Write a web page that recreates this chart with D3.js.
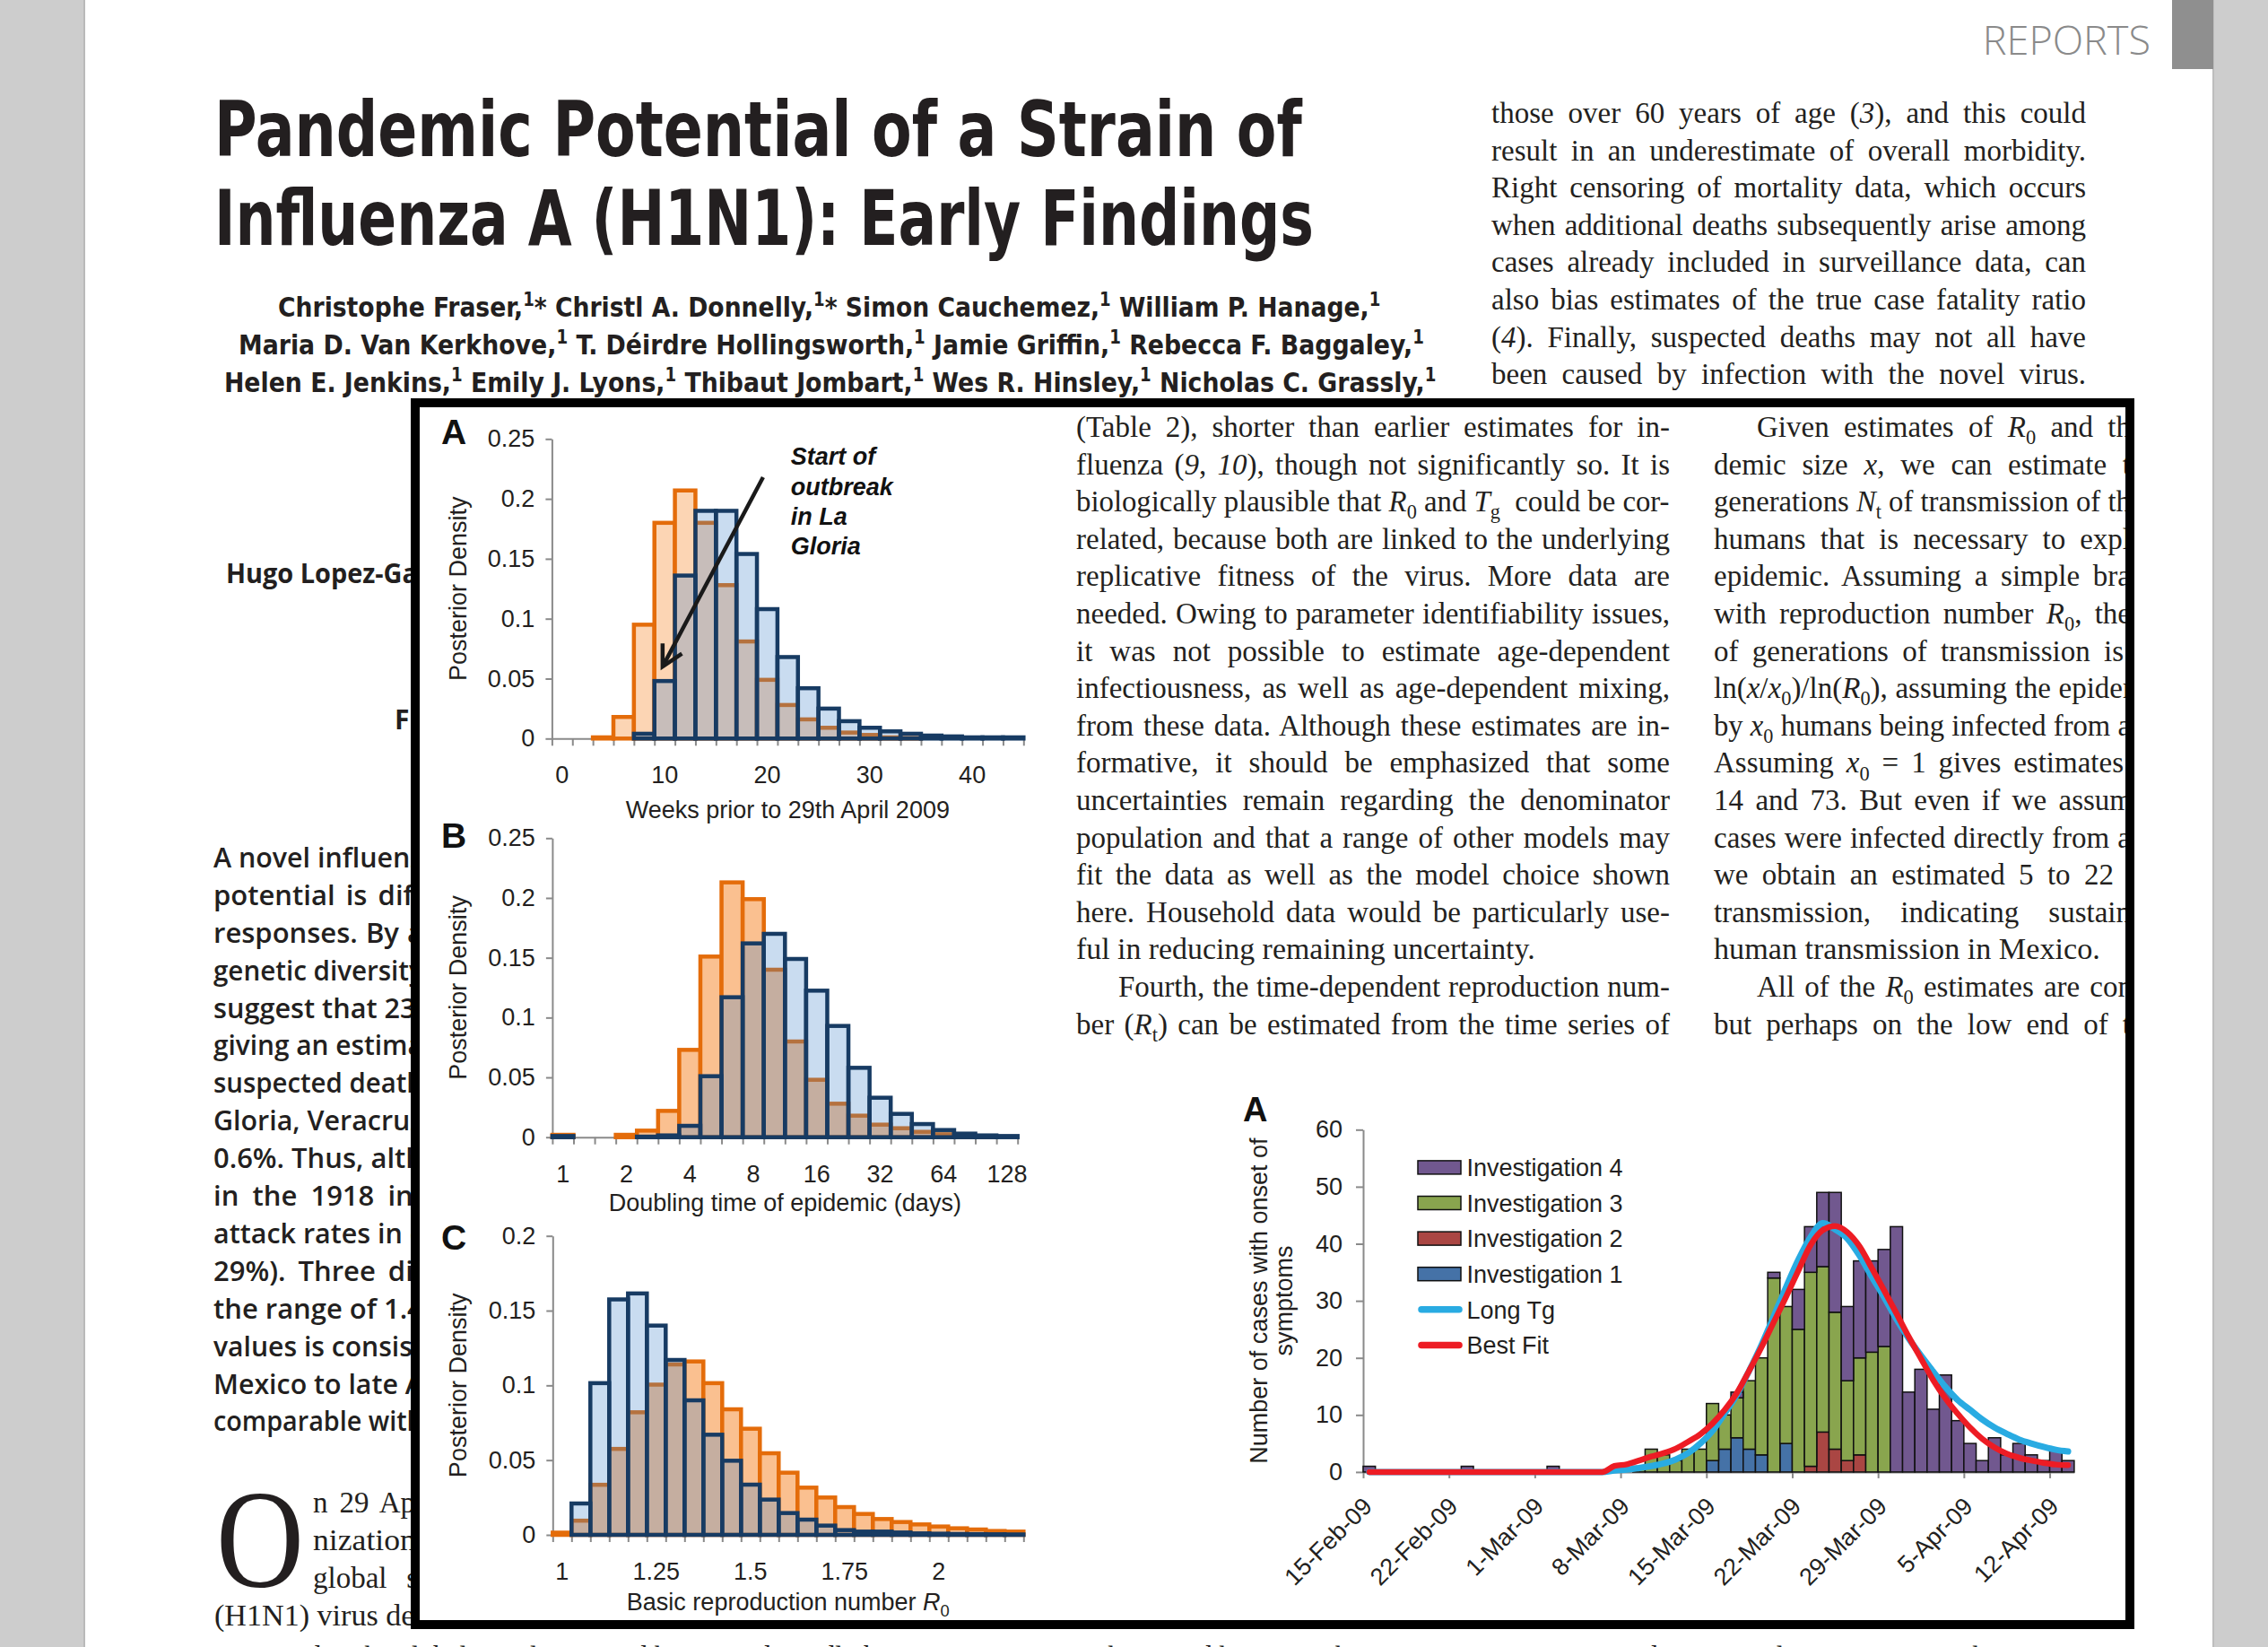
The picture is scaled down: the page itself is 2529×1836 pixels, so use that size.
<!DOCTYPE html>
<html><head><meta charset="utf-8"><title>Pandemic Potential of a Strain of Influenza A (H1N1)</title>
<script src="https://cdn.jsdelivr.net/npm/d3@7/dist/d3.min.js"></script>
<style>html,body{margin:0;padding:0;background:#cccccc;overflow:hidden}svg{display:block}</style>
</head><body>
<svg id="page" width="2529" height="1836" xmlns="http://www.w3.org/2000/svg"></svg>
<script>
// ===================== DATA =====================
// Panel A – weeks prior to 29th April 2009 (2-week bins)
const weeksA  = [0,2,4,6,8,10,12,14,16,18,20,22,24,26,28,30,32,34,36,38,40,42,44];
const orangeA = [0,0,0.001,0.018,0.095,0.180,0.207,0.180,0.128,0.081,0.049,0.028,0.016,0.009,0.005,0.003,0.001,0.0005,0,0,0,0,0];
const blueA   = [0,0,0,0,0.004,0.048,0.136,0.190,0.190,0.154,0.108,0.068,0.042,0.025,0.0145,0.009,0.006,0.004,0.0025,0.0018,0.001,0.001,0.001];
const xTicksA = [0,10,20,30,40];

// Panel B – doubling time of epidemic (days), log2 bins of 1/3
const doublingB = [1,1.26,1.59,2,2.52,3.17,4,5.04,6.35,8,10.08,12.7,16,20.16,25.4,32,40.32,50.8,64,80.6,101.6,128];
const orangeB   = [0.002,0,0,0.002,0.0055,0.022,0.073,0.151,0.213,0.199,0.140,0.080,0.048,0.028,0.018,0.0105,0.0075,0.0045,0.0025,0.001,0.0005,0];
const blueB     = [0.001,0,0,0,0.0005,0.0015,0.0095,0.051,0.117,0.162,0.170,0.149,0.1225,0.093,0.058,0.033,0.0195,0.011,0.006,0.003,0.0015,0.001];
const xTicksB   = [1,2,4,8,16,32,64,128];

// Panel C – basic reproduction number R0
const r0C     = [1,1.05,1.1,1.15,1.2,1.25,1.3,1.35,1.4,1.45,1.5,1.55,1.6,1.65,1.7,1.75,1.8,1.85,1.9,1.95,2,2.05,2.1,2.15,2.2];
const orangeC = [0.0015,0.0095,0.0335,0.0575,0.082,0.1005,0.114,0.116,0.1015,0.084,0.071,0.0546,0.0416,0.0316,0.025,0.0186,0.014,0.0106,0.0086,0.007,0.0056,0.0044,0.0036,0.0026,0.0022];
const blueC   = [0,0.021,0.1015,0.1575,0.1615,0.140,0.117,0.090,0.067,0.0496,0.0336,0.0236,0.0146,0.0102,0.0062,0.0032,0.0022,0.0022,0.0016,0.001,0.0008,0.0006,0.0005,0.0004,0.0003];
const xTicksC = [1,1.25,1.5,1.75,2];

const yTicksAB = [0,0.05,0.1,0.15,0.2,0.25];
const yTicksC  = [0,0.05,0.1,0.15,0.2];

// Epidemic curve – daily cases 15-Feb-09 .. 13-Apr-09 (58 days)
const inv1 = [0,0,0,0,0,0,0,0,0,0, 0,0,0,0,0,0,0,0,0,0, 0,0,0,0,0,0,0,0,2,4, 6,4,3,0,5,0,0,0,0,0, 0,0,0,0,0,0,0,0,0,0, 0,0,0,0,0,0,0,0];
const inv2 = [0,0,0,0,0,0,0,0,0,0, 0,0,0,0,0,0,0,0,0,0, 0,0,0,0,0,0,0,0,0,0, 0,0,0,0,0,0,1,7,4,2, 3,0,0,0,0,0,0,0,0,0, 0,0,0,0,0,0,0,0];
const inv3 = [0,0,0,0,0,0,0,0,0,0, 0,0,0,0,0,0,0,0,0,0, 0,0,1,4,3,2,4,4,10,6, 7,12,17,34,24,25,34,29,24,14, 17,21,22,0,0,0,0,0,0,0, 0,0,0,0,0,0,0,0];
const inv4 = [1,0,0,0,0,0,0,0,1,0, 0,0,0,0,0,1,0,0,0,0, 0,0,0,0,0,0,0,0,0,0, 1,0,0,1,0,7,8,13,21,13, 17,16,17,43,14,18,11,17,9,5, 2,6,3,5,3,2,4,2];
const longTg  = [0,0,0,0,0,0,0,0,0,0, 0,0,0,0,0,0,0,0,0,0, 0.25,0.4,0.7,1.05,1.5,2.2,3.3,5.0,7.2,10.3, 13.6,17.8,22.3,27.3,32.4,37.2,41.2,43.6,42.5,40.9, 37.9,34.2,30.6,26.8,23.4,20.4,17.6,14.9,12.6,10.9, 9.2,7.8,6.7,5.7,5.0,4.4,3.9,3.6];
const bestFit = [0,0,0,0,0,0,0,0,0,0, 0,0,0,0,0,0,0,0,0,0, 1.05,1.35,2.0,2.7,3.3,4.1,5.3,6.6,8.5,10.9, 13.9,17.8,21.9,26.3,30.7,35.3,39.8,42.4,43.1,42.0, 39.5,35.7,31.8,27.8,23.7,19.9,16.1,12.9,10.2,7.8, 5.8,4.3,3.2,2.5,2.0,1.6,1.3,1.2];
const dateTickDays = [0,7,14,21,28,35,42,49,56];
const dateTicks    = ['15-Feb-09','22-Feb-09','1-Mar-09','8-Mar-09','15-Mar-09','22-Mar-09','29-Mar-09','5-Apr-09','12-Apr-09'];
const yTicksE      = [0,10,20,30,40,50,60];

// ===================== HELPERS =====================
const svg = d3.select('#page');
const SANS  = "'Liberation Sans', Arial, Helvetica, sans-serif";
const SERIF = "'Liberation Serif', 'Times New Roman', Times, serif";
const COND  = "'DejaVu Sans Condensed', 'DejaVu Sans', 'Liberation Sans', sans-serif";
const HUM   = "'Open Sans', 'Noto Sans', 'DejaVu Sans', sans-serif";
const INK = '#231f20';
function I(t){return {t:t,i:true};}
function S(t){return {t:t,sub:true};}
function P(t){return {t:t,sup:true};}

function addText(parent, o){
  const size=o.size;
  const t=parent.append('text').attr('x',o.x).attr('y',o.y)
    .attr('font-family',o.family).attr('font-size',size)
    .attr('font-weight',o.weight||'normal').attr('font-style',o.style||'normal')
    .attr('fill',o.fill||INK).attr('text-anchor',o.anchor||'start')
    .style('white-space','pre');
  const parts=Array.isArray(o.parts)?o.parts:[o.parts];
  let shift=0;
  parts.forEach(p=>{
    if(typeof p==='string') p={t:p};
    const ts=t.append('tspan').text(p.t);
    const target=p.sub?size*0.25:(p.sup?-size*0.4:0);
    if(target!==shift){ts.attr('dy',target-shift);shift=target;}
    if(p.sub||p.sup) ts.attr('font-size',size*0.68);
    if(p.i) ts.attr('font-style','italic');
  });
  if(o.width) fitText(t,o.x,o.width,o.k||1,o.justify!==false);
  else if(o.k&&o.k!==1) t.attr('transform',`matrix(${o.k},0,0,1,${o.x*(1-o.k)},0)`);
  if(o.transform) t.attr('transform',o.transform);
  return t;
}
function fitText(t,x,width,k,justify){
  const n=t.node();const w=n.getComputedTextLength();
  if(!w) return;
  const local=width/k;let scale=k;
  if(!justify||w>=local){scale=width/w;}
  else{
    const spaces=(n.textContent.match(/ /g)||[]).length;
    if(spaces) t.attr('word-spacing',(local-w)/spaces); else scale=width/w;
  }
  t.attr('transform',`matrix(${scale},0,0,1,${x*(1-scale)},0)`);
}

// ===================== PAGE =====================
svg.append('rect').attr('width',2529).attr('height',1836).attr('fill','#cdcdcd');
svg.append('rect').attr('x',94).attr('y',0).attr('width',2374).attr('height',1836).attr('fill','#ffffff');
svg.append('line').attr('x1',94).attr('x2',94).attr('y1',0).attr('y2',1836).attr('stroke','#b9b9b9').attr('stroke-width',2);
svg.append('line').attr('x1',2468).attr('x2',2468).attr('y1',0).attr('y2',1836).attr('stroke','#bdbdbd').attr('stroke-width',2);
svg.append('rect').attr('x',2422).attr('y',0).attr('width',46).attr('height',77).attr('fill','#8f8f8f');
addText(svg,{x:2398,y:61,parts:'REPORTS',size:45,family:HUM,weight:300,fill:'#8a8a8a',anchor:'end'});

// title
addText(svg,{x:239,y:174,parts:'Pandemic Potential of a Strain of',size:85,family:COND,weight:'bold',width:1213});
addText(svg,{x:239,y:273,parts:'Influenza A (H1N1): Early Findings',size:85,family:COND,weight:'bold',width:1226});

// authors
const authors=[
  {x:310,y:353,w:1230,parts:['Christophe Fraser,',P('1'),'* Christl A. Donnelly,',P('1'),'* Simon Cauchemez,',P('1'),' William P. Hanage,',P('1')]},
  {x:266,y:395,w:1323,parts:['Maria D. Van Kerkhove,',P('1'),' T. Déirdre Hollingsworth,',P('1'),' Jamie Griffin,',P('1'),' Rebecca F. Baggaley,',P('1')]},
  {x:250,y:437,w:1352,parts:['Helen E. Jenkins,',P('1'),' Emily J. Lyons,',P('1'),' Thibaut Jombart,',P('1'),' Wes R. Hinsley,',P('1'),' Nicholas C. Grassly,',P('1')]}
];
authors.forEach(a=>addText(svg,{x:a.x,y:a.y,parts:a.parts,size:31,family:COND,weight:'bold',width:a.w}));

// right column, above box
const rightTop=[
  ['those over 60 years of age (',I('3'),'), and this could'],
  ['result in an underestimate of overall morbidity.'],
  ['Right censoring of mortality data, which occurs'],
  ['when additional deaths subsequently arise among'],
  ['cases already included in surveillance data, can'],
  ['also bias estimates of the true case fatality ratio'],
  ['(',I('4'),'). Finally, suspected deaths may not all have'],
  ['been caused by infection with the novel virus.']
];
rightTop.forEach((p,i)=>addText(svg,{x:1663,y:137+41.6*i,parts:p,size:33,family:SERIF,width:663,k:1}));

// left column fragments (partly hidden behind the figure box)
addText(svg,{x:252,y:650,parts:'Hugo Lopez-Ga',size:30,family:HUM,weight:'bold',width:214});
addText(svg,{x:440,y:813,parts:'F',size:30,family:HUM,weight:'bold'});
const absLines=['A novel influenz','potential is diff','responses. By a','genetic diversity','suggest that 23,','giving an estima','suspected death','Gloria, Veracruz','0.6%. Thus, alth','in the 1918 inf','attack rates in c','29%). Three dif','the range of 1.4','values is consist','Mexico to late A','comparable with'];
absLines.forEach((s,i)=>addText(svg,{x:238,y:967+41.9*i,parts:s,size:31,family:HUM,weight:600,width:234}));
addText(svg,{x:241,y:1768,parts:'O',size:156,family:SERIF,width:98,justify:false});
[['n 29 Apr',349,1686,474,true],['nization',349,1728,464,false],['global s',349,1770,466,true],['(H1N1) virus det',239,1812,472,false]].forEach(r=>
  addText(svg,{x:r[1],y:r[2],parts:r[0],size:33,family:SERIF,width:r[3]-r[1],k:1,justify:r[4]}));
addText(svg,{x:279,y:1858,parts:'sented in the global population, and has spread rapidly between countries with onward human-to-human transmission reported in many places, now more than 10,000',size:33,family:SERIF,width:2060,k:1});

// ===================== FIGURE BOX =====================
svg.append('rect').attr('x',463).attr('y',449).attr('width',1912).attr('height',1362).attr('fill','#ffffff');

const defs=svg.append('defs');
defs.append('clipPath').attr('id','boxclip').append('rect').attr('x',468).attr('y',454).attr('width',1902).attr('height',1352);
const inner=svg.append('g').attr('clip-path','url(#boxclip)');

// text columns inside the box
const col1=[
  ['(Table 2), shorter than earlier estimates for in-'],
  ['fluenza (',I('9'),', ',I('10'),'), though not significantly so. It is'],
  ['biologically plausible that ',I('R'),S('0'),' and ',I('T'),S('g'),'  could be cor-'],
  ['related, because both are linked to the underlying'],
  ['replicative fitness of the virus. More data are'],
  ['needed. Owing to parameter identifiability issues,'],
  ['it was not possible to estimate age-dependent'],
  ['infectiousness, as well as age-dependent mixing,'],
  ['from these data. Although these estimates are in-'],
  ['formative, it should be emphasized that some'],
  ['uncertainties remain regarding the denominator'],
  ['population and that a range of other models may'],
  ['fit the data as well as the model choice shown'],
  ['here. Household data would be particularly use-'],
  ['ful in reducing remaining uncertainty.'],
  ['Fourth, the time-dependent reproduction num-'],
  ['ber (',I('R'),S('t'),') can be estimated from the time series of']
];
col1.forEach((p,i)=>{
  const x=i===15?1247:1200;
  const w=i===14?512:1862-x;
  addText(inner,{x:x,y:487+41.6*i,parts:p,size:33,family:SERIF,width:w,k:1,justify:i!==14});
});
const col2=[
  ['Given estimates of ',I('R'),S('0'),' and th'],
  ['demic size ',I('x'),', we can estimate t'],
  ['generations ',I('N'),S('t'),' of transmission of th'],
  ['humans that is necessary to expl'],
  ['epidemic. Assuming a simple bra'],
  ['with reproduction number ',I('R'),S('0'),', the'],
  ['of generations of transmission is'],
  ['ln(',I('x'),'/',I('x'),S('0'),')/ln(',I('R'),S('0'),'), assuming the epider'],
  ['by ',I('x'),S('0'),' humans being infected from a'],
  ['Assuming ',I('x'),S('0'),' = 1 gives estimates'],
  ['14 and 73. But even if we assum'],
  ['cases were infected directly from a'],
  ['we obtain an estimated 5 to 22'],
  ['transmission, indicating sustain'],
  ['human transmission in Mexico.'],
  ['All of the ',I('R'),S('0'),' estimates are con'],
  ['but perhaps on the low end of t']
];
const col2End=[2376,2376,2376,2376,2376,2376,2368,2378,2376,2368,2378,2376,2357,2376,2342,2378,2376];
col2.forEach((p,i)=>{
  const x=(i===0||i===15)?1959:1911;
  addText(inner,{x:x,y:487+41.6*i,parts:p,size:33,family:SERIF,width:col2End[i]-x,k:1,justify:i!==14});
});

// ===================== HISTOGRAMS =====================
const ORANGE_STROKE='#e46c0a', NAVY='#173b63', BLUE_FILL='rgba(62,130,201,0.28)', AXIS='#8a8a8a';
function styleAxis(a,size){
  a.selectAll('path,line').attr('stroke',AXIS).attr('stroke-width',2);
  a.selectAll('text').attr('font-family',SANS).attr('font-size',size||27).attr('fill',INK);
}
function drawHist(c){
  const g=inner.append('g');
  const n=c.cats.length;
  const x=d3.scaleBand().domain(d3.range(n)).range([c.x0,c.x1]).padding(0);
  const xb=d3.scaleLinear().domain([0,n]).range([c.x0,c.x1]);
  const y=d3.scaleLinear().domain([0,c.ymax]).range([c.y0,c.ytop]);
  const ya=g.append('g').attr('transform',`translate(${c.x0},0)`)
    .call(d3.axisLeft(y).tickValues(c.yticks).tickSize(7).tickPadding(12).tickSizeOuter(0).tickFormat(d=>String(+d.toFixed(2))));
  styleAxis(ya);
  const xa=g.append('g').attr('transform',`translate(0,${c.y0})`)
    .call(d3.axisBottom(xb).tickValues(d3.range(n+1)).tickSize(8).tickSizeOuter(0).tickFormat(''));
  styleAxis(xa);
  const xl=g.append('g').attr('transform',`translate(0,${c.y0})`)
    .call(d3.axisBottom(x).tickValues(c.xticks.map(v=>c.cats.indexOf(v))).tickSize(0).tickPadding(31).tickFormat(i=>String(c.cats[i])));
  xl.select('.domain').remove();
  styleAxis(xl);
  // orange series
  g.append('g').selectAll('rect').data(c.orange.map((v,i)=>({v:v,i:i})).filter(d=>d.v>0)).join('rect')
    .attr('x',d=>x(d.i)).attr('width',x.bandwidth()).attr('y',d=>y(d.v)).attr('height',d=>c.y0-y(d.v))
    .attr('fill',c.orangeFill).attr('stroke',ORANGE_STROKE).attr('stroke-width',4.5);
  // blue series (translucent, on top)
  g.append('g').selectAll('rect').data(c.blue.map((v,i)=>({v:v,i:i})).filter(d=>d.v>0)).join('rect')
    .attr('x',d=>x(d.i)).attr('width',x.bandwidth()).attr('y',d=>y(d.v)).attr('height',d=>c.y0-y(d.v))
    .attr('fill',BLUE_FILL).attr('stroke',NAVY).attr('stroke-width',4.5);
  // titles
  addText(g,{x:0,y:0,parts:'Posterior Density',size:27,family:SANS,anchor:'middle',transform:`translate(520,${(c.y0+c.ytop)/2}) rotate(-90)`});
  addText(g,{x:(c.x0+c.x1)/2,y:c.titleY,parts:c.title,size:27,family:SANS,anchor:'middle'});
  addText(g,{x:492,y:c.labelY,parts:c.label,size:39,family:SANS,weight:'bold',fill:'#111'});
  return {g:g,x:x,y:y};
}
const hA=drawHist({cats:weeksA,orange:orangeA,blue:blueA,xticks:xTicksA,yticks:yTicksAB,ymax:0.25,
  x0:615.4,x1:1141.3,y0:823.3,ytop:489.3,title:'Weeks prior to 29th April 2009',titleY:911.7,label:'A',labelY:495,orangeFill:'#fcd5b4'});
drawHist({cats:doublingB,orange:orangeB,blue:blueB,xticks:xTicksB,yticks:yTicksAB,ymax:0.25,
  x0:615.9,x1:1134.7,y0:1267.7,ytop:934.3,title:'Doubling time of epidemic (days)',titleY:1350,label:'B',labelY:945,orangeFill:'#fac090'});
drawHist({cats:r0C,orange:orangeC,blue:blueC,xticks:xTicksC,yticks:yTicksC,ymax:0.2,
  x0:616.3,x1:1141.3,y0:1711,ytop:1377.7,title:['Basic reproduction number ',I('R'),S('0')],titleY:1795,label:'C',labelY:1393,orangeFill:'#fac090'});

// annotation on panel A (data coordinates: weeks, density)
const arrowA={from:[19.6,0.218],to:[9.8,0.06]};
const noteA={w:22.3,d:[0.2283,0.2033,0.1783,0.1534],lines:['Start of','outbreak','in La','Gloria']};
const wk=d3.scaleLinear().domain([weeksA[0]-1,weeksA[weeksA.length-1]+1]).range([615.4,1141.3]);
(function(){
  const sx=wk(arrowA.from[0]),sy=hA.y(arrowA.from[1]),tx=wk(arrowA.to[0]),ty=hA.y(arrowA.to[1]);
  const L=Math.hypot(tx-sx,ty-sy),ux=(tx-sx)/L,uy=(ty-sy)/L;
  hA.g.append('line').attr('x1',sx).attr('y1',sy).attr('x2',tx-ux*2).attr('y2',ty-uy*2).attr('stroke','#1a1a1a').attr('stroke-width',4.5);
  const a=28*Math.PI/180,len=26;
  const w1=[tx-len*(ux*Math.cos(a)-uy*Math.sin(a)),ty-len*(uy*Math.cos(a)+ux*Math.sin(a))];
  const w2=[tx-len*(ux*Math.cos(a)+uy*Math.sin(a)),ty-len*(uy*Math.cos(a)-ux*Math.sin(a))];
  hA.g.append('path').attr('d',d3.line()([w1,[tx,ty],w2])).attr('fill','none').attr('stroke','#1a1a1a').attr('stroke-width',4.5).attr('stroke-linejoin','miter');
  noteA.lines.forEach((s,i)=>addText(hA.g,{x:wk(noteA.w),y:hA.y(noteA.d[i]),parts:s,size:27,family:SANS,weight:'bold',style:'italic',fill:'#111'}));
})();

// ===================== EPIDEMIC CURVE =====================
(function(){
  const g=inner.append('g');
  const E={x0:1520,x1:2312.9,y0:1640.9,ytop:1259.3};
  const days=d3.range(inv1.length);
  const x=d3.scaleBand().domain(days).range([E.x0,E.x1]).padding(0);
  const xl=d3.scaleLinear().domain([0,days.length]).range([E.x0,E.x1]);
  const y=d3.scaleLinear().domain([0,60]).range([E.y0,E.ytop]);
  const ya=g.append('g').attr('transform',`translate(${E.x0},0)`)
    .call(d3.axisLeft(y).tickValues(yTicksE).tickSize(8).tickPadding(15).tickSizeOuter(0));
  styleAxis(ya);
  const xa=g.append('g').attr('transform',`translate(0,${E.y0})`)
    .call(d3.axisBottom(xl).tickValues(dateTickDays).tickSize(7).tickSizeOuter(0).tickFormat((d,i)=>dateTicks[i]));
  styleAxis(xa,27);
  xa.selectAll('text').attr('x',11).attr('y',40).attr('dy',0).attr('text-anchor','end').attr('transform','rotate(-45,11,40)');
  // stacked bars
  const rows=days.map(i=>({inv1:inv1[i],inv2:inv2[i],inv3:inv3[i],inv4:inv4[i]}));
  const keys=['inv1','inv2','inv3','inv4'];
  const colors={inv1:'#4572a7',inv2:'#aa4643',inv3:'#89a54e',inv4:'#71588f'};
  const stacked=d3.stack().keys(keys)(rows);
  stacked.forEach(layer=>{
    g.append('g').selectAll('rect').data(layer.map((d,i)=>({d:d,i:i})).filter(o=>o.d[1]>o.d[0])).join('rect')
      .attr('x',o=>x(o.i)).attr('width',x.bandwidth()).attr('y',o=>y(o.d[1])).attr('height',o=>y(o.d[0])-y(o.d[1]))
      .attr('fill',colors[layer.key]).attr('stroke','#111').attr('stroke-width',1.5);
  });
  // model curves
  const line=d3.line().x((v,i)=>x(i)+x.bandwidth()/2).y(v=>y(v)).curve(d3.curveMonotoneX);
  g.append('path').attr('d',line(longTg)).attr('fill','none').attr('stroke','#29abe2').attr('stroke-width',7).attr('stroke-linecap','round').attr('stroke-linejoin','round');
  g.append('path').attr('d',line(bestFit)).attr('fill','none').attr('stroke','#ed1c24').attr('stroke-width',6.5).attr('stroke-linecap','round').attr('stroke-linejoin','round');
  // legend
  const legend=[
    {label:'Investigation 4',fill:colors.inv4},{label:'Investigation 3',fill:colors.inv3},
    {label:'Investigation 2',fill:colors.inv2},{label:'Investigation 1',fill:colors.inv1},
    {label:'Long Tg',line:'#29abe2'},{label:'Best Fit',line:'#ed1c24'}];
  legend.forEach((d,i)=>{
    const cy=1301.4+39.6*i;
    if(d.fill) g.append('rect').attr('x',1581).attr('y',cy-7.5).attr('width',48).attr('height',15).attr('fill',d.fill).attr('stroke','#111').attr('stroke-width',1.5);
    else g.append('line').attr('x1',1585).attr('x2',1627).attr('y1',cy).attr('y2',cy).attr('stroke',d.line).attr('stroke-width',7.5).attr('stroke-linecap','round');
    addText(g,{x:1635.5,y:cy+9.7,parts:d.label,size:27,family:SANS});
  });
  addText(g,{x:0,y:0,parts:'Number of cases with onset of',size:27,family:SANS,anchor:'middle',transform:`translate(1413,${(E.y0+E.ytop)/2}) rotate(-90)`});
  addText(g,{x:0,y:0,parts:'symptoms',size:27,family:SANS,anchor:'middle',transform:`translate(1441,${(E.y0+E.ytop)/2}) rotate(-90)`});
  addText(g,{x:1386,y:1250,parts:'A',size:38,family:SANS,weight:'bold',fill:'#111'});
})();

// box border on top
svg.append('rect').attr('x',463).attr('y',449).attr('width',1912).attr('height',1362).attr('fill','none').attr('stroke','#000').attr('stroke-width',10);
</script></body></html>
